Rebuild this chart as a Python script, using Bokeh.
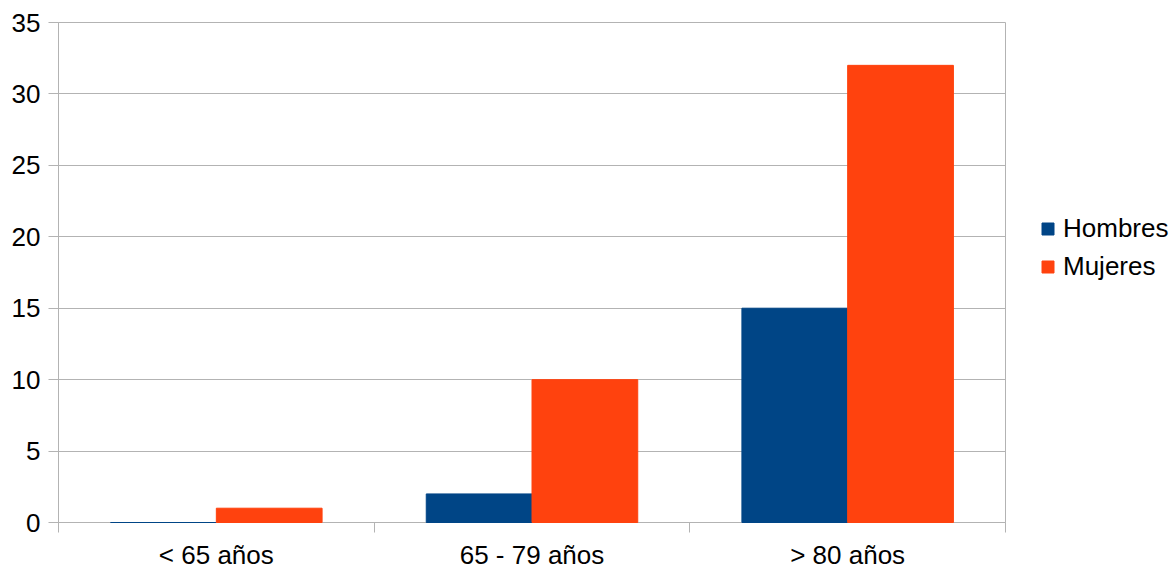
import numpy as np
from bokeh.plotting import figure
from bokeh.models import Range1d, FixedTicker, ColumnDataSource, Legend, LegendItem
from bokeh.transform import dodge
from bokeh.embed import file_html
from bokeh.resources import INLINE

categories = ["< 65 años", "65 - 79 años", "> 80 años"]
series_names = ["Hombres", "Mujeres"]
hombres = [0, 2, 15]
mujeres = [1, 10, 32]
y_ticks = [0, 5, 10, 15, 20, 25, 30, 35]

colors = ["#004586", "#ff420e"]
grid_color = "#b3b3b3"
font = "Liberation Sans"
fs = "26px"

centers = np.arange(len(categories)) + 0.5
boundaries = list(np.arange(len(categories) + 1).astype(float))
src = ColumnDataSource(dict(center=centers, hombres=hombres, mujeres=mujeres))

p = figure(frame_width=947, frame_height=500,
           x_range=Range1d(0, len(categories)), y_range=Range1d(0, 35),
           output_backend="svg", toolbar_location=None,
           min_border_left=58, min_border_right=168, min_border_top=22,
           min_border_bottom=49)

bw = 0.335
r1 = p.vbar(x=dodge("center", -bw / 2, range=p.x_range), top="hombres", width=bw,
            source=src, fill_color=colors[0], line_color=colors[0], line_width=1,
            level="overlay")
r2 = p.vbar(x=dodge("center", bw / 2, range=p.x_range), top="mujeres", width=bw,
            source=src, fill_color=colors[1], line_color=colors[1], line_width=1,
            level="overlay")

p.xgrid.visible = False
p.ygrid.ticker = FixedTicker(ticks=y_ticks)
p.ygrid.grid_line_color = grid_color
p.outline_line_color = grid_color

xa = p.xaxis[0]
xa.ticker = FixedTicker(ticks=list(centers), minor_ticks=boundaries)
xa.major_label_overrides = {float(c): lab for c, lab in zip(centers, categories)}
xa.major_tick_line_color = None
xa.major_tick_out = 0
xa.major_tick_in = 0
xa.minor_tick_line_color = grid_color
xa.minor_tick_out = 10
xa.minor_tick_in = 0
xa.axis_line_color = grid_color
xa.major_label_standoff = 7
xa.major_label_text_font = font
xa.major_label_text_font_size = fs
xa.major_label_text_color = "#000000"

ya = p.yaxis[0]
ya.ticker = FixedTicker(ticks=y_ticks)
ya.minor_tick_line_color = None
ya.major_tick_line_color = grid_color
ya.major_tick_out = 10
ya.major_tick_in = 0
ya.axis_line_color = grid_color
ya.major_label_standoff = 8
ya.major_label_text_font = font
ya.major_label_text_font_size = fs
ya.major_label_text_color = "#000000"

legend = Legend(items=[LegendItem(label=series_names[0], renderers=[r1]),
                       LegendItem(label=series_names[1], renderers=[r2])],
                location=(35, 240), orientation="vertical",
                border_line_color=None, background_fill_alpha=0,
                padding=0, margin=0, spacing=7,
                glyph_width=15, glyph_height=15, label_standoff=8,
                label_text_font=font, label_text_font_size=fs,
                label_text_color="#000000", label_height=29)
p.add_layout(legend, "right")

open("out.html", "w").write(file_html(p, INLINE))
